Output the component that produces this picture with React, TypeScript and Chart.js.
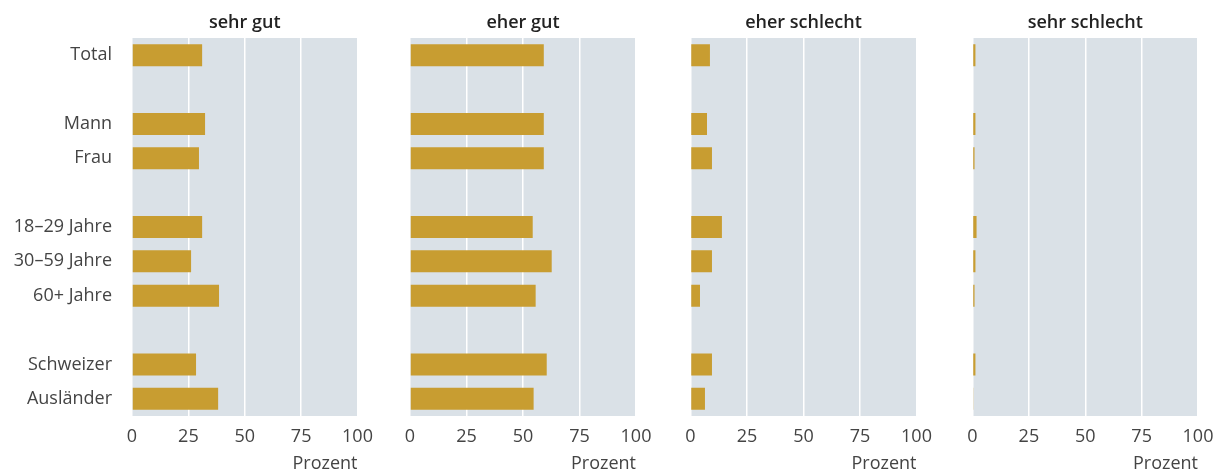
import React, { useEffect, useRef } from "react";
import { Chart, registerables } from "chart.js";

Chart.register(...registerables);

const categories = ["Total", "", "Mann", "Frau", "", "18–29 Jahre", "30–59 Jahre", "60+ Jahre", "", "Schweizer", "Ausländer"];
const sehrGut = [31.1, null, 32.4, 29.7, null, 31.1, 26.2, 38.6, null, 28.4, 38.2];
const eherGut = [59.2, null, 59.2, 59.2, null, 54.3, 62.7, 55.6, null, 60.5, 54.7];
const eherSchlecht = [8.6, null, 7.3, 9.5, null, 13.9, 9.5, 4.2, null, 9.5, 6.4];
const sehrSchlecht = [1.3, null, 1.3, 0.9, null, 1.8, 1.3, 0.9, null, 1.3, 0.4];
const panelTitles = ["sehr gut", "eher gut", "eher schlecht", "sehr schlecht"];
const axisTitle = "Prozent";
const xMin = 0;
const xMax = 100;
const xStep = 25;

const seriesList = [sehrGut, eherGut, eherSchlecht, sehrSchlecht];

const FONT = "'Open Sans', 'Noto Sans', sans-serif";
const BAR_COLOR = "#c89d31";
const BG_COLOR = "#dae1e7";
const TEXT_COLOR = "#444444";
const VIEW_H = 472;
const H = 476;

const panels = [
  { left: 0, width: 386, padL: 0, padR: 28.5, showY: true, yWidth: 132 },
  { left: 380, width: 284, padL: 30, padR: 28, showY: false, yWidth: 0 },
  { left: 660, width: 285, padL: 30.5, padR: 28.5, showY: false, yWidth: 0 },
  { left: 940, width: 286, padL: 32.5, padR: 28, showY: false, yWidth: 0 },
];

const bgPlugin = {
  id: "panelBg",
  beforeDraw(chart: any) {
    const { ctx, chartArea } = chart;
    ctx.save();
    ctx.fillStyle = BG_COLOR;
    ctx.fillRect(chartArea.left, chartArea.top, chartArea.right - chartArea.left, chartArea.bottom - chartArea.top);
    ctx.restore();
  },
  afterDraw(chart: any) {
    const { ctx, chartArea } = chart;
    const title = chart.options.plugins.panelBg.title;
    ctx.save();
    ctx.fillStyle = "#222222";
    ctx.font = `600 18px ${FONT}`;
    ctx.textAlign = "center";
    ctx.textBaseline = "alphabetic";
    ctx.fillText(title, (chartArea.left + chartArea.right) / 2, 28);
    ctx.restore();
  },
};

function Panel({ idx }: { idx: number }) {
  const ref = useRef<HTMLCanvasElement | null>(null);
  const p = panels[idx];
  useEffect(() => {
    if (!ref.current) return;
    const chart = new Chart(ref.current, {
      type: "bar",
      data: {
        labels: categories,
        datasets: [
          {
            data: seriesList[idx] as any,
            backgroundColor: BAR_COLOR,
            borderWidth: 0,
            barPercentage: 0.64,
            categoryPercentage: 1,
          },
        ],
      },
      plugins: [bgPlugin as any],
      options: {
        indexAxis: "y",
        animation: false,
        responsive: false,
        devicePixelRatio: 1,
        layout: { padding: { left: p.padL, right: p.padR, top: 38, bottom: 0 } },
        plugins: {
          legend: { display: false },
          tooltip: { enabled: false },
          title: { display: false },
          panelBg: { title: panelTitles[idx] },
        } as any,
        scales: {
          x: {
            min: xMin,
            max: xMax,
            border: { display: false },
            grid: { color: "#ffffff", lineWidth: 1.5, drawTicks: false },
            ticks: {
              stepSize: xStep,
              padding: 10,
              color: TEXT_COLOR,
              font: { family: FONT, size: 18 },
              maxRotation: 0,
            },
            title: {
              display: true,
              text: axisTitle,
              align: "end",
              color: TEXT_COLOR,
              font: { family: FONT, size: 18 },
              padding: { top: 2, bottom: 1.5 },
            },
            afterFit(scale: any) {
              scale.height = 60;
            },
          },
          y: {
            display: p.showY,
            border: { display: false },
            grid: { display: false, drawTicks: false },
            ticks: {
              padding: 20,
              color: TEXT_COLOR,
              font: { family: FONT, size: 18 },
              autoSkip: false,
            },
            afterFit(scale: any) {
              if (p.showY) scale.width = p.yWidth;
            },
          },
        },
      } as any,
    });
    return () => chart.destroy();
  }, [idx]);
  return (
    <canvas
      ref={ref}
      width={p.width}
      height={H}
      style={{ position: "absolute", left: p.left, top: 0, width: p.width, height: H }}
    />
  );
}

export default function App() {
  return (
    <div
      style={{
        position: "absolute",
        left: 0,
        top: 0,
        width: 1216,
        height: VIEW_H,
        overflow: "hidden",
        background: "#ffffff",
      }}
    >
      {panels.map((_, i) => (
        <Panel key={i} idx={i} />
      ))}
    </div>
  );
}
